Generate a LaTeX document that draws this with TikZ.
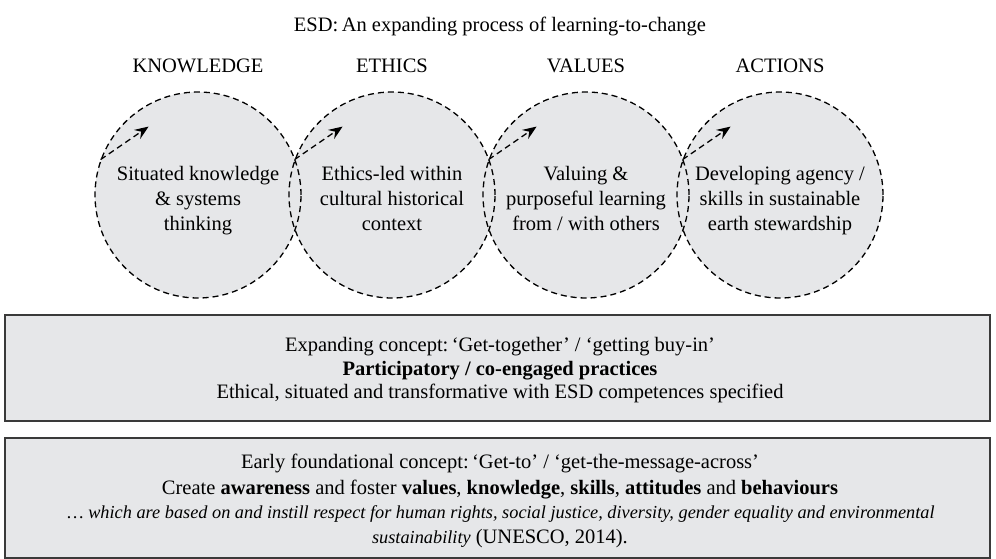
\documentclass[tikz,border=0pt]{standalone}
\usepackage{fontspec}
\setmainfont{Liberation Serif}
\usetikzlibrary{arrows.meta}
\definecolor{pale}{HTML}{E6E7E9}
\definecolor{edge}{HTML}{3A3A3A}
\tikzset{
  txt/.style={font=\fontsize{20.5}{25}\selectfont, inner sep=0pt, anchor=base, align=center},
  blob/.style={circle, minimum size=206pt, inner sep=0pt, fill=pale},
  blobedge/.style={circle, minimum size=206pt, inner sep=0pt, draw=black, dashed, line width=1.3pt, dash pattern=on 6pt off 4pt},
  panel/.style={fill=pale, draw=edge, line width=1.5pt},
  flow/.style={dashed, dash pattern=on 6pt off 4pt, line width=1.3pt, -{Stealth[length=14pt,width=11pt,inset=5pt]}}
}
\begin{document}
\begin{tikzpicture}[x=1pt,y=-1pt]
\useasboundingbox (0,0) rectangle (996,559);
% title
\node[txt] (title) at (500,32) {ESD:\,An expanding process of learning-to-change};
% headings
\node[txt] (h1) at (198,73) {KNOWLEDGE};
\node[txt] (h2) at (392,73) {ETHICS};
\node[txt] (h3) at (586,73) {VALUES};
\node[txt] (h4) at (780,73) {ACTIONS};
% circles fill
\foreach \i/\x in {1/198,2/392,3/586,4/780}{
  \node[blob] (f\i) at (\x,195) {};
}
% circle outlines
\foreach \i/\x in {1/198,2/392,3/586,4/780}{
  \node[blobedge] (c\i) at (\x,195) {};
}
% circle texts (anchor = baseline of last line)
\node[txt] (t1) at (198,230) {Situated knowledge\\\& systems\\thinking};
\node[txt] (t2) at (392,230) {Ethics-led within\\cultural historical\\context};
\node[txt] (t3) at (586,230) {Valuing \&\\purposeful learning\\from / with others};
\node[txt] (t4) at (780,230) {Developing agency /\\skills in sustainable\\earth stewardship};
% arrows
\foreach \i in {1,2,3,4}{
  \coordinate (s\i) at (c\i.160);
  \draw[flow] (s\i) -- ++(48,-33);
}
% panels
\node[panel, minimum width=985pt, minimum height=106pt, inner sep=0pt] (p1) at (497.5,368) {};
\node[panel, minimum width=985pt, minimum height=120pt, inner sep=0pt] (p2) at (497.5,498) {};
% panel 1 text
\node[txt] (a1) at (500,351) {Expanding concept:\,‘Get-together’ / ‘getting buy-in’};
\node[txt] (a2) at (500,375) {\textbf{Participatory / co-engaged practices}};
\node[txt] (a3) at (500,398) {Ethical, situated and transformative with ESD competences specified};
% panel 2 text
\node[txt] (b1) at (500,468) {Early foundational concept:\,‘Get-to’ / ‘get-the-message-across’};
\node[txt] (b2) at (500,494) {Create \textbf{awareness} and foster \textbf{values}, \textbf{knowledge}, \textbf{skills}, \textbf{attitudes} and \textbf{behaviours}};
\node[txt, font=\fontsize{18.3}{22}\selectfont] (b3) at (501,518) {\textit{… which are based on and instill respect for human rights, social justice, diversity, gender equality and environmental}};
\node[txt] (b4) at (500,543) {{\fontsize{18.3}{22}\selectfont\textit{sustainability}} (UNESCO, 2014).};
\end{tikzpicture}
\end{document}
